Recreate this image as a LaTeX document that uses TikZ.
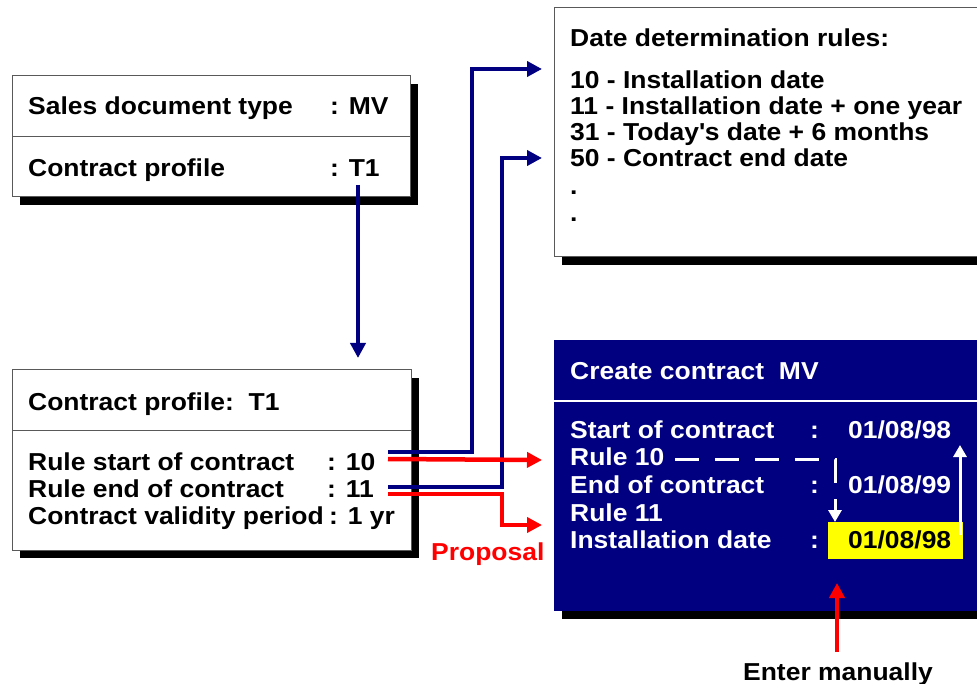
\documentclass[tikz,border=0pt]{standalone}
\usepackage{fontspec}
\setmainfont{Liberation Sans}[FakeStretch=1.08]
\usetikzlibrary{arrows.meta}
\definecolor{navy}{RGB}{0,0,128}
\definecolor{sapred}{RGB}{255,0,0}
\definecolor{sapyellow}{RGB}{255,255,0}
\tikzset{
  txt/.style={anchor=base west, inner sep=0pt, font=\fontsize{24.5}{27}\bfseries\selectfont},
  wtxt/.style={txt, text=white},
  panel/.style={draw=black!65, line width=1pt, fill=white},
  shadowbox/.style={fill=black},
  tip/.style={-{Triangle[length=15pt,width=15pt]}},
  bluearrow/.style={tip, draw=navy, line width=4.5pt},
  redarrow/.style={tip, draw=sapred, line width=4.5pt},
  whitearrow/.style={-{Triangle[length=12pt,width=13pt]}, draw=white, line width=3pt},
}
\begin{document}
\begin{tikzpicture}[x=1pt,y=-1pt]
\clip (0,0) rectangle (977,684);

% ---- header box: document type / profile
\fill[shadowbox] (20,84) rectangle (418,205);
\draw[panel] (12,76) rectangle (410,197);
\draw[black!65, line width=1pt] (12,137) -- (410,137);
\node[txt] (sdt)  at (28,115) {Sales document type};
\node[txt] (sdtv) at (330,115) {: MV};
\node[txt] (cp)   at (28,177) {Contract profile};
\node[txt] (cpv)  at (330,177) {: T1};

% ---- contract profile T1
\fill[shadowbox] (20,378) rectangle (419,558);
\draw[panel] (12,370) rectangle (411,550);
\draw[black!65, line width=1pt] (12,430) -- (411,430);
\node[txt] (cph) at (28,410) {Contract profile:\ \ T1};
\node[txt] (rs)  at (28,470) {Rule start of contract};
\node[txt] (rsv) at (327,470) {: 10};
\node[txt] (re)  at (28,497) {Rule end of contract};
\node[txt] (rev) at (327,497) {: 11};
\node[txt] (vp)  at (28,524) {Contract validity period};
\node[txt] (vpv) at (329,524) {: 1 yr};

% ---- date determination rules
\fill[shadowbox] (562,16) rectangle (1000,265);
\draw[panel] (554,8) rectangle (1000,257);
\node[txt] (ddr) at (570,47)  {Date determination rules:};
\node[txt] (r10) at (570,89)  {10 - Installation date};
\node[txt] (r11) at (570,115) {11 - Installation date + one year};
\node[txt] (r31) at (570,141) {31 - Today\textquotesingle s date + 6 months};
\node[txt] (r50) at (570,167) {50 - Contract end date};
\node[txt] (d1)  at (570,195) {.};
\node[txt] (d2)  at (570,222) {.};

% ---- create contract screen
\fill[shadowbox] (562,348) rectangle (1000,619);
\fill[navy] (554,340) rectangle (1000,611);
\draw[white, line width=2.5pt] (554,401) -- (1000,401);
\node[wtxt] (cc)  at (570,380) {Create contract\ \ MV};
\node[wtxt] (sc)  at (570,438) {Start of contract};
\node[wtxt] (scc) at (810,438) {:};
\node[wtxt] (scd) at (848,438) {01/08/98};
\node[wtxt] (ru10) at (570,465) {Rule 10};
\node[wtxt] (ec)  at (570,493) {End of contract};
\node[wtxt] (ecc) at (810,493) {:};
\node[wtxt] (ecd) at (848,493) {01/08/99};
\node[wtxt] (ru11) at (570,521) {Rule 11};
\node[wtxt] (id)  at (570,548) {Installation date};
\node[wtxt] (idc) at (810,548) {:};
\fill[sapyellow] (828,522) rectangle (963,559);
\node[txt] (idd) at (848,548) {01/08/98};

% ---- labels
\node[txt, text=sapred] (prop) at (431,560) {Proposal};
\node[txt, anchor=base] (man) at (838,680) {Enter manually};

% ---- connector end points
\coordinate (t1)    at (358,185);
\coordinate (cpin)  at (358,358);
\coordinate (b10)   at (388,452);
\coordinate (c10)   at (388,459);
\coordinate (b11)   at (388,487);
\coordinate (c11)   at (388,494);
\coordinate (in10)  at (542,69);
\coordinate (in50)  at (542,158);
\coordinate (inr10) at (542,460);
\coordinate (inr11) at (542,525);
\coordinate (dstart) at (675,459);
\coordinate (dturn)  at (835,459);
\coordinate (dend)   at (835,522);
\coordinate (ustart) at (960,535);
\coordinate (uend)   at (960,445);
\coordinate (mstart) at (837,652);
\coordinate (mend)   at (837,583);

% ---- connectors
\draw[bluearrow] (t1) -- (cpin);
\draw[bluearrow] (b10) -- ++(84,0) |- (in10);
\draw[bluearrow] (b11) -- ++(114,0) |- (in50);
\draw[redarrow]  (c10) -- (inr10);
\draw[redarrow]  (c11) -- ++(114,0) |- (inr11);
\draw[whitearrow, dash pattern=on 24pt off 16pt] (dstart) -- (dturn) -- (dend);
\draw[whitearrow] (ustart) -- (uend);
\draw[redarrow]  (mstart) -- (mend);
\end{tikzpicture}
\end{document}
